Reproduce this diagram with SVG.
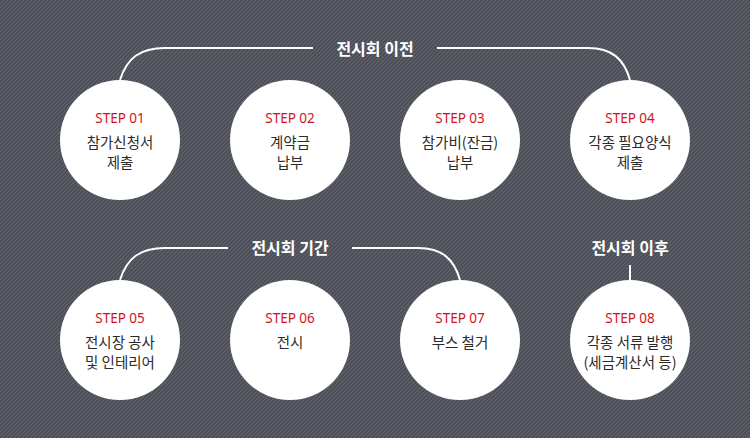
<svg xmlns="http://www.w3.org/2000/svg" width="750" height="438" viewBox="0 0 750 438">
<defs>
<pattern id="stripes" patternUnits="userSpaceOnUse" width="4" height="4">
<rect width="4" height="4" fill="#494c55"/>
<path d="M-1,1 L1,-1 M0,4 L4,0 M3,5 L5,3" stroke="#62656e" stroke-width="1.2"/>
</pattern>
</defs>
<style>
.bg{fill:url(#stripes)}
.node circle{fill:#ffffff}
.step{font-family:"Noto Sans","Open Sans",sans-serif;font-size:13.5px;fill:#d0121b;text-anchor:middle}
.label{font-family:"Noto Sans CJK KR","Noto Sans",sans-serif;font-size:14.5px;fill:#2b2b2b;text-anchor:middle}
.title{font-family:"Noto Sans CJK KR","Noto Sans",sans-serif;font-size:16px;font-weight:bold;fill:#ffffff;text-anchor:middle}
.conn{fill:none;stroke:#ffffff;stroke-width:2}
</style>
<rect class="bg" x="0" y="0" width="750" height="438"/>
<g id="connectors">
<path class="conn" d="M120,80 C127,58 140,48 165,48 L313,48"/>
<path class="conn" d="M437,48 L588,48 C612,48 624,59 630,80"/>
<path class="conn" d="M120,280 C127,258 140,248 165,248 L228,248"/>
<path class="conn" d="M352,248 L418,248 C442,248 454,259 460,280"/>
<path class="conn" d="M630,265 L630,280"/>
</g>
<g id="titles">
<text class="title" x="375" y="55">전시회 이전</text>
<text class="title" x="290" y="254">전시회 기간</text>
<text class="title" x="630" y="254">전시회 이후</text>
</g>
<g id="step01" class="node">
<circle cx="120" cy="140" r="60"/>
<text class="step" x="120" y="123">STEP 01</text>
<text class="label" x="120" y="148">참가신청서</text>
<text class="label" x="120" y="168">제출</text>
</g>
<g id="step02" class="node">
<circle cx="290" cy="140" r="60"/>
<text class="step" x="290" y="123">STEP 02</text>
<text class="label" x="290" y="148">계약금</text>
<text class="label" x="290" y="168">납부</text>
</g>
<g id="step03" class="node">
<circle cx="460" cy="140" r="60"/>
<text class="step" x="460" y="123">STEP 03</text>
<text class="label" x="460" y="148">참가비(잔금)</text>
<text class="label" x="460" y="168">납부</text>
</g>
<g id="step04" class="node">
<circle cx="630" cy="140" r="60"/>
<text class="step" x="630" y="123">STEP 04</text>
<text class="label" x="630" y="148">각종 필요양식</text>
<text class="label" x="630" y="168">제출</text>
</g>
<g id="step05" class="node">
<circle cx="120" cy="340" r="60"/>
<text class="step" x="120" y="323">STEP 05</text>
<text class="label" x="120" y="348">전시장 공사</text>
<text class="label" x="120" y="368">및 인테리어</text>
</g>
<g id="step06" class="node">
<circle cx="290" cy="340" r="60"/>
<text class="step" x="290" y="323">STEP 06</text>
<text class="label" x="290" y="348">전시</text>
</g>
<g id="step07" class="node">
<circle cx="460" cy="340" r="60"/>
<text class="step" x="460" y="323">STEP 07</text>
<text class="label" x="460" y="348">부스 철거</text>
</g>
<g id="step08" class="node">
<circle cx="630" cy="340" r="60"/>
<text class="step" x="630" y="323">STEP 08</text>
<text class="label" x="630" y="348">각종 서류 발행</text>
<text class="label" x="630" y="368">(세금계산서 등)</text>
</g>
</svg>
